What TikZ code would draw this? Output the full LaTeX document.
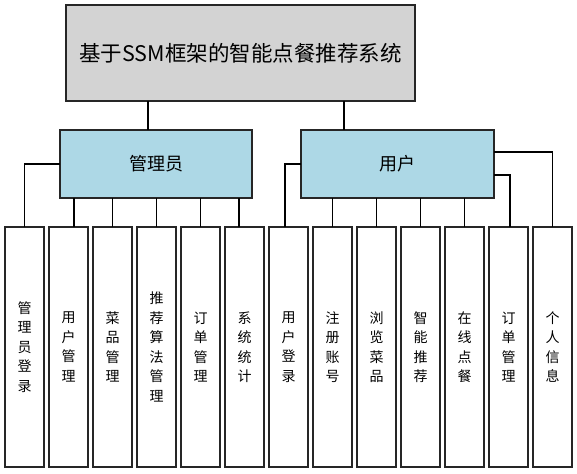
\documentclass[tikz,border=0pt]{standalone}
\usepackage{fontspec}
\setmainfont{Noto Sans CJK SC}
\usetikzlibrary{positioning}
\definecolor{sysgray}{HTML}{D3D3D3}
\definecolor{rolecolor}{HTML}{ADD8E6}
\tikzstyle{box}=[draw=black!85, line width=1.2pt, inner sep=0pt, outer sep=0pt]
\tikzstyle{role}=[box, fill=rolecolor, minimum height=68pt, font=\fontsize{18}{22}\selectfont]
\tikzstyle{func}=[box, minimum width=39pt, minimum height=240pt, align=center, font=\fontsize{14}{19.5}\selectfont]
\tikzstyle{link}=[line width=1.1pt, black]

\begin{document}
\begin{tikzpicture}[x=1pt, y=-1pt]
  \useasboundingbox (0,0) rectangle (577,473);
  \node[box,fill=sysgray,minimum width=349pt,minimum height=96pt,font=\fontsize{21.5}{25}\selectfont] (sys) at (240.5,53) {基于SSM框架的智能点餐推荐系统};
  \node[role,minimum width=192pt] (admin) at (156,164) {管理员};
  \node[role,minimum width=193pt] (user) at (397.5,164) {用户};
  % admin functions
  \node[func] (a1) at (24.5,347) {管\\理\\员\\登\\录};
  \node[func] (a2) [right=5pt of a1] {用\\户\\管\\理};
  \node[func] (a3) [right=5pt of a2] {菜\\品\\管\\理};
  \node[func] (a4) [right=5pt of a3] {推\\荐\\算\\法\\管\\理};
  \node[func] (a5) [right=5pt of a4] {订\\单\\管\\理};
  \node[func] (a6) [right=5pt of a5] {系\\统\\统\\计};
  % user functions
  \node[func] (u1) [right=5pt of a6] {用\\户\\登\\录};
  \node[func] (u2) [right=5pt of u1] {注\\册\\账\\号};
  \node[func] (u3) [right=5pt of u2] {浏\\览\\菜\\品};
  \node[func] (u4) [right=5pt of u3] {智\\能\\推\\荐};
  \node[func] (u5) [right=5pt of u4] {在\\线\\点\\餐};
  \node[func] (u6) [right=5pt of u5] {订\\单\\管\\理};
  \node[func] (u7) [right=5pt of u6] {个\\人\\信\\息};
  \draw[link] ([xshift=-92.5pt]sys.south) -- ([xshift=-92.5pt]sys.south |- admin.north);
  \draw[link] ([xshift=103.5pt]sys.south) -- ([xshift=103.5pt]sys.south |- user.north);
  \draw[link] (admin.west) -| (a1.north);
  \draw[link] ([xshift=5.5pt]a2.north) -- ([xshift=5.5pt]a2.north |- admin.south);
  \draw[link] (a3.north) -- (a3.north |- admin.south);
  \draw[link] (a4.north) -- (a4.north |- admin.south);
  \draw[link] (a5.north) -- (a5.north |- admin.south);
  \draw[link] ([xshift=-5.5pt]a6.north) -- ([xshift=-5.5pt]a6.north |- admin.south);
  \draw[link] (user.west) -| ([xshift=-3.5pt]u1.north);
  \draw[link] (u2.north) -- (u2.north |- user.south);
  \draw[link] (u3.north) -- (u3.north |- user.south);
  \draw[link] (u4.north) -- (u4.north |- user.south);
  \draw[link] (u5.north) -- (u5.north |- user.south);
  \draw[link] ([yshift=-11pt]user.east) -| ([xshift=1.5pt]u6.north);
  \draw[link] ([yshift=12pt]user.east) -| (u7.north);
\end{tikzpicture}
\end{document}
